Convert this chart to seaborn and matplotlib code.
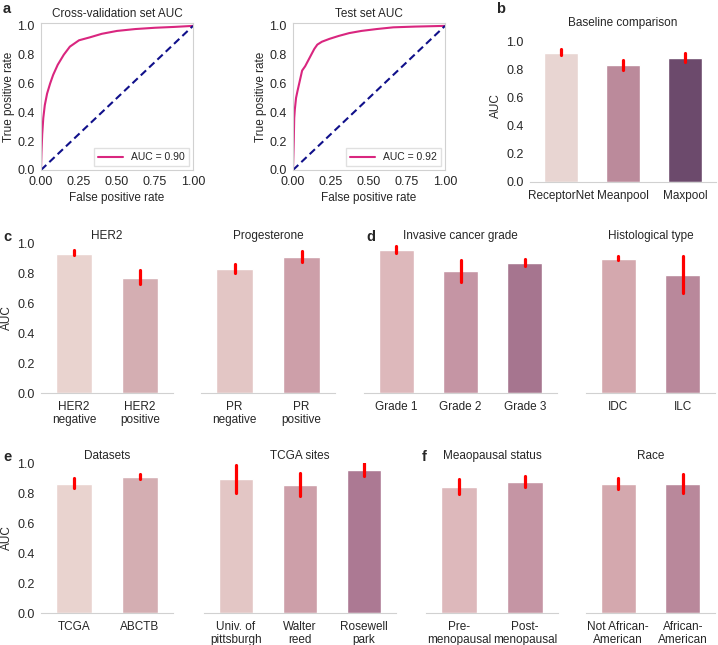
import numpy as np
import pandas as pd
import matplotlib
matplotlib.use("Agg")
import matplotlib.pyplot as plt
import seaborn as sns

# ROC curves
cv_fpr = [0, 0.003, 0.008, 0.015, 0.025, 0.04, 0.06, 0.08, 0.11, 0.15, 0.19, 0.25, 0.32, 0.40, 0.50, 0.62, 0.75, 0.88, 1.0]
cv_tpr = [0, 0.12, 0.25, 0.36, 0.45, 0.53, 0.60, 0.66, 0.73, 0.80, 0.856, 0.90, 0.92, 0.945, 0.965, 0.978, 0.987, 0.993, 1.0]
test_fpr = [0, 0.005, 0.008, 0.012, 0.02, 0.03, 0.045, 0.06, 0.08, 0.10, 0.12, 0.14, 0.16, 0.19, 0.24, 0.30, 0.37, 0.45, 0.55, 0.66, 0.80, 1.0]
test_tpr = [0, 0.20, 0.36, 0.42, 0.50, 0.55, 0.62, 0.69, 0.72, 0.76, 0.80, 0.84, 0.87, 0.89, 0.91, 0.93, 0.95, 0.965, 0.978, 0.99, 0.995, 1.0]

# bar panels: label, AUC, lower, upper
base_labels = ["ReceptorNet", "Meanpool", "Maxpool"]
base_auc = [0.92, 0.83, 0.884]
base_lo = [0.90, 0.794, 0.853]
base_hi = [0.948, 0.87, 0.917]

her2_labels = ["HER2\nnegative", "HER2\npositive"]
her2_auc = [0.929, 0.770]
her2_lo = [0.918, 0.730]
her2_hi = [0.951, 0.819]

pr_labels = ["PR\nnegative", "PR\npositive"]
pr_auc = [0.827, 0.909]
pr_lo = [0.801, 0.874]
pr_hi = [0.858, 0.945]

grade_labels = ["Grade 1", "Grade 2", "Grade 3"]
grade_auc = [0.951, 0.812, 0.869]
grade_lo = [0.934, 0.737, 0.850]
grade_hi = [0.978, 0.889, 0.892]

hist_labels = ["IDC", "ILC"]
hist_auc = [0.896, 0.790]
hist_lo = [0.885, 0.670]
hist_hi = [0.912, 0.912]

data_labels = ["TCGA", "ABCTB"]
data_auc = [0.863, 0.907]
data_lo = [0.834, 0.894]
data_hi = [0.898, 0.925]

site_labels = ["Univ. of\npittsburgh", "Walter\nreed", "Rosewell\npark"]
site_auc = [0.892, 0.856, 0.956]
site_lo = [0.803, 0.779, 0.913]
site_hi = [0.985, 0.936, 1.0]

meno_labels = ["Pre-\nmenopausal", "Post-\nmenopausal"]
meno_auc = [0.841, 0.874]
meno_lo = [0.792, 0.841]
meno_hi = [0.896, 0.914]

race_labels = ["Not African-\nAmerican", "African-\nAmerican"]
race_auc = [0.861, 0.861]
race_lo = [0.825, 0.801]
race_hi = [0.900, 0.925]

sns.set_style("white", {"axes.edgecolor": ".82"})
plt.rcParams["font.family"] = ["Liberation Sans", "DejaVu Sans"]
plt.rcParams["font.size"] = 8.5
plt.rcParams["xtick.labelsize"] = 8.5
plt.rcParams["ytick.labelsize"] = 9

W, H = 718, 645
fig = plt.figure(figsize=(W / 100, H / 100), dpi=100)


def px_axes(left, bottom, width, height):
    return fig.add_axes([left / W, 1 - bottom / H, width / W, height / H])


def roc_panel(ax, fpr, tpr, auc_text, title):
    sns.lineplot(x=fpr, y=tpr, estimator=None, sort=False, color="#d9267f", lw=1.5,
                 label=auc_text, ax=ax)
    sns.lineplot(x=[0, 1], y=[0, 1], color="#10108a", lw=1.5, ax=ax)
    ax.lines[-1].set_linestyle((0, (3.5, 2)))
    ax.set_xlim(0, 1)
    ax.set_ylim(0, 1.02)
    ax.set_xticks([0, 0.25, 0.5, 0.75, 1.0])
    ax.set_yticks([0, 0.2, 0.4, 0.6, 0.8, 1.0])
    ax.tick_params(labelsize=9, pad=1)
    ax.set_xlabel("False positive rate", fontsize=8.5, labelpad=3)
    ax.set_ylabel("True positive rate", fontsize=8.5, labelpad=2)
    ax.set_title(title, fontsize=8.5, pad=4)
    leg = ax.legend(loc="lower right", fontsize=7.5, frameon=True, handlelength=2.4,
                    borderaxespad=0.35, fancybox=False)
    leg.get_frame().set_edgecolor(".85")


def bar_panel(ax, labels, auc, lo, hi, colors, title, ylabel=False, width=0.54):
    df = pd.DataFrame({
        "label": np.repeat(labels, 3),
        "auc": np.column_stack([lo, auc, hi]).ravel(),
    })
    sns.barplot(data=df, x="label", y="auc", hue="label", palette=colors, saturation=1,
                estimator="median", errorbar=("pi", 100), width=width,
                err_kws={"color": "red", "linewidth": 2.3}, legend=False, ax=ax)
    ax.set_ylim(0, 1.0)
    ax.set_xlabel("")
    ax.set_title(title, fontsize=8.5, pad=3)
    sns.despine(ax=ax, left=True)
    ax.tick_params(axis="x", pad=2)
    ax.tick_params(axis="y", pad=1)
    if ylabel:
        ax.set_ylabel("AUC", fontsize=8.5, labelpad=3)
        ax.set_yticks([0, 0.2, 0.4, 0.6, 0.8, 1.0])
    else:
        ax.set_ylabel("")
        ax.set_yticks([])


# a
ax = px_axes(41, 170, 152, 147)
roc_panel(ax, cv_fpr, cv_tpr, "AUC = 0.90", "Cross-validation set AUC")
ax = px_axes(293, 170, 152, 147)
roc_panel(ax, test_fpr, test_tpr, "AUC = 0.92", "Test set AUC")

# b
ax = px_axes(530, 182, 186, 152)
bar_panel(ax, base_labels, base_auc, base_lo, base_hi,
          ["#e8d5d2", "#bb8a9b", "#6c4a6c"], "Baseline comparison", ylabel=True, width=0.56)
ax.set_ylim(0, 1.08)
ax.title.set_position((0.5, 1.11))

# c, d
ax = px_axes(41, 393, 132, 150)
bar_panel(ax, her2_labels, her2_auc, her2_lo, her2_hi, ["#e9d3cf", "#d4aeb2"], "HER2", ylabel=True)
ax = px_axes(201, 393, 134, 150)
bar_panel(ax, pr_labels, pr_auc, pr_lo, pr_hi, ["#e3c6c5", "#cd9fa9"], "Progesterone")
ax = px_axes(364, 393, 193, 150)
bar_panel(ax, grade_labels, grade_auc, grade_lo, grade_hi,
          ["#ddb8bb", "#c595a4", "#a6758f"], "Invasive cancer grade")
ax = px_axes(586, 393, 129, 150)
bar_panel(ax, hist_labels, hist_auc, hist_lo, hist_hi, ["#d4a8ae", "#b9889b"], "Histological type")

# e, f
ax = px_axes(41, 613, 132, 150)
bar_panel(ax, data_labels, data_auc, data_lo, data_hi, ["#e9d3cf", "#d4aeb2"], "Datasets", ylabel=True)
ax = px_axes(204, 613, 192, 150)
bar_panel(ax, site_labels, site_auc, site_lo, site_hi,
          ["#e3c6c5", "#cd9fa9", "#ac7993"], "TCGA sites")
ax = px_axes(426, 613, 132, 150)
bar_panel(ax, meno_labels, meno_auc, meno_lo, meno_hi, ["#ddb8bb", "#c595a4"], "Meaopausal status")
ax = px_axes(586, 613, 129, 150)
bar_panel(ax, race_labels, race_auc, race_lo, race_hi, ["#d4a8ae", "#b9889b"], "Race")

# panel letters
for letter, x, y in [("a", 3, 9), ("b", 496, 9), ("c", 3, 237), ("d", 366, 237),
                     ("e", 3, 457), ("f", 422, 457)]:
    fig.text(x / W, 1 - y / H, letter, fontsize=10.5, fontweight="bold", va="center")

fig.savefig("out.png", dpi=100)
